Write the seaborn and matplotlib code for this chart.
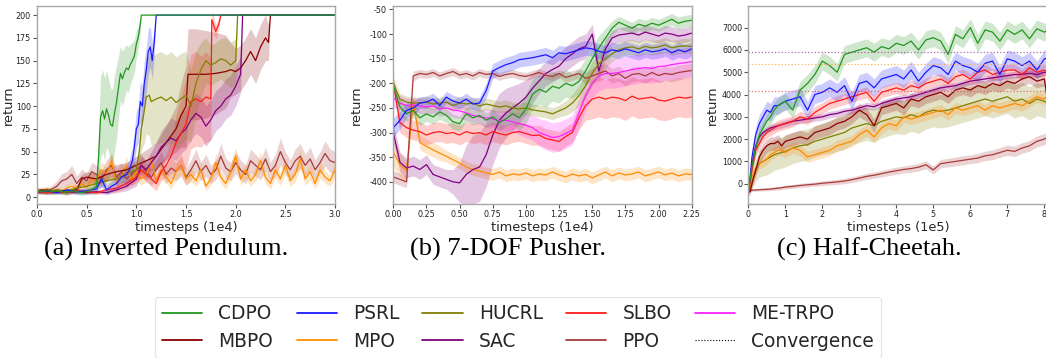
import numpy as np
import matplotlib
matplotlib.use("Agg")
import matplotlib.pyplot as plt
from matplotlib.lines import Line2D
import seaborn as sns

# ---- colours / method names ----
METHODS = ["CDPO", "PSRL", "HUCRL", "SLBO", "ME-TRPO", "MBPO", "MPO", "SAC", "PPO"]
COLORS = {
    "CDPO": "#22961f", "PSRL": "#1a1aff", "HUCRL": "#808000", "SLBO": "#ff1a1a",
    "ME-TRPO": "#ff22ff", "MBPO": "#8b0000", "MPO": "#ff8c00", "SAC": "#800080",
    "PPO": "#a83a3a",
}

# ---- (a) Inverted Pendulum, timesteps in 1e4 ----
IP_CDPO_X = [0.0, 0.05, 0.1, 0.15, 0.2, 0.25, 0.3, 0.35, 0.4, 0.45, 0.5, 0.55, 0.6, 0.62, 0.64, 0.66, 0.68, 0.7,
             0.72, 0.74, 0.76, 0.78, 0.8, 0.82, 0.84, 0.86, 0.88, 0.9, 0.92, 0.94, 0.96, 0.98, 1.0, 1.02, 1.04, 1.05, 3.0]
IP_CDPO_Y = [7, 6, 8, 6, 7, 6, 5, 7, 6, 5, 6, 8, 12, 45, 88, 95, 86, 97, 90, 80, 78, 92, 104, 120, 136, 130, 137,
             142, 140, 146, 150, 155, 168, 176, 190, 200, 200]
IP_CDPO_SD = [3, 3, 3, 3, 3, 3, 3, 3, 3, 3, 3, 4, 8, 30, 45, 45, 45, 42, 40, 40, 40, 42, 40, 35, 30, 30, 28, 25,
              25, 22, 20, 18, 15, 12, 8, 0, 0]

IP_PSRL_X = [0.0, 0.1, 0.2, 0.3, 0.4, 0.5, 0.6, 0.65, 0.7, 0.75, 0.8, 0.85, 0.9, 0.93, 0.96, 0.98, 1.0, 1.02, 1.04,
             1.06, 1.08, 1.1, 1.12, 1.14, 1.16, 1.18, 1.2, 3.0]
IP_PSRL_Y = [6, 7, 5, 8, 6, 7, 9, 20, 8, 12, 15, 22, 25, 30, 40, 55, 75, 80, 105, 100, 125, 140, 160, 165, 150,
             170, 200, 200]
IP_PSRL_SD = [2, 2, 2, 2, 3, 3, 4, 8, 5, 6, 6, 8, 10, 12, 15, 18, 20, 20, 22, 22, 25, 25, 25, 22, 20, 15, 0, 0]

IP_HUCRL_X = [0.0, 0.1, 0.2, 0.3, 0.4, 0.5, 0.6, 0.7, 0.8, 0.9, 0.95, 1.0, 1.03, 1.05, 1.08, 1.1, 1.13, 1.15, 1.2,
              1.25, 1.3, 1.35, 1.4, 1.45, 1.5, 1.55, 1.6, 1.65, 1.7, 1.75, 1.8, 1.85, 1.9, 1.95, 2.0, 2.02, 3.0]
IP_HUCRL_Y = [7, 6, 8, 6, 10, 12, 15, 18, 20, 25, 28, 30, 50, 75, 95, 110, 112, 105, 108, 110, 106, 110, 104, 108,
              112, 100, 125, 140, 150, 145, 148, 152, 150, 145, 150, 200, 200]
IP_HUCRL_SD = [2, 2, 2, 2, 4, 4, 5, 6, 6, 8, 8, 10, 15, 25, 35, 40, 45, 48, 50, 50, 50, 50, 50, 50, 48, 40, 35,
               30, 25, 22, 22, 22, 25, 25, 25, 0, 0]

IP_SLBO_X = [0.0, 0.1, 0.2, 0.3, 0.4, 0.5, 0.6, 0.7, 0.8, 0.9, 1.0, 1.05, 1.1, 1.15, 1.2, 1.25, 1.3, 1.35, 1.4,
             1.45, 1.5, 1.55, 1.6, 1.65, 1.7, 1.75, 1.76, 1.8, 1.83, 1.85, 3.0]
IP_SLBO_Y = [6, 5, 6, 5, 7, 6, 5, 8, 10, 15, 22, 30, 25, 20, 15, 28, 35, 45, 60, 70, 80, 105, 108, 105, 110, 108,
             195, 182, 190, 200, 200]
IP_SLBO_SD = [2, 2, 2, 2, 2, 2, 2, 3, 4, 5, 6, 8, 8, 8, 8, 10, 12, 20, 30, 40, 50, 52, 52, 50, 50, 45, 10, 8, 5, 0, 0]

IP_SAC_X = [0.0, 0.1, 0.2, 0.3, 0.4, 0.5, 0.6, 0.7, 0.8, 0.9, 1.0, 1.05, 1.1, 1.15, 1.2, 1.25, 1.3, 1.35, 1.4,
            1.45, 1.5, 1.55, 1.6, 1.65, 1.7, 1.75, 1.8, 1.85, 1.9, 1.95, 2.0, 2.05, 2.07, 3.0]
IP_SAC_Y = [6, 5, 6, 5, 6, 5, 6, 5, 8, 12, 20, 35, 30, 38, 45, 55, 60, 65, 62, 70, 75, 85, 92, 88, 78, 85, 95,
            100, 108, 112, 122, 135, 200, 200]
IP_SAC_SD = [2, 2, 2, 2, 2, 2, 2, 2, 3, 5, 8, 10, 10, 12, 15, 18, 20, 22, 22, 22, 22, 22, 22, 22, 22, 22, 22, 22,
             22, 22, 22, 20, 0, 0]

IP_MBPO_X = [0.0, 0.1, 0.2, 0.3, 0.4, 0.45, 0.5, 0.6, 0.7, 0.8, 0.9, 1.0, 1.1, 1.2, 1.3, 1.4, 1.45, 1.5, 1.52, 1.6,
             1.7, 1.8, 1.9, 1.95, 2.0, 2.05, 2.1, 2.15, 2.2, 2.25, 2.3, 2.33, 2.35, 3.0]
IP_MBPO_Y = [7, 8, 6, 7, 8, 20, 22, 20, 25, 28, 30, 35, 40, 45, 60, 75, 90, 100, 135, 135, 135, 136, 138, 140,
             138, 142, 150, 160, 150, 165, 175, 170, 200, 200]
IP_MBPO_SD = [2, 2, 2, 2, 3, 5, 6, 6, 7, 8, 8, 10, 12, 15, 18, 25, 35, 45, 50, 50, 48, 45, 40, 30, 25, 25, 25, 25,
              25, 25, 25, 20, 0, 0]

IP_NOISY_X = np.linspace(0.0, 3.0, 61)
IP_MPO_Y = [8, 7, 9, 6, 8, 7, 10, 12, 9, 15, 11, 20, 18, 30, 25, 40, 15, 22, 35, 18, 28, 20, 25, 40, 18, 30, 22,
            15, 28, 35, 20, 25, 18, 30, 12, 20, 38, 22, 15, 28, 45, 20, 30, 18, 25, 40, 22, 15, 30, 20, 35, 18, 25,
            42, 20, 28, 15, 30, 22, 18, 30]
IP_MPO_SD = [3, 3, 3, 3, 3, 3, 4, 4, 4, 6, 5, 7, 7, 9, 8, 10, 6, 8, 10, 6, 9, 7, 8, 10, 6, 9, 7, 6, 9, 10, 7, 8,
             6, 9, 5, 7, 10, 7, 6, 9, 10, 7, 9, 6, 8, 10, 7, 6, 9, 7, 10, 6, 8, 10, 7, 9, 6, 9, 7, 6, 9]
IP_PPO_Y = [7, 8, 6, 9, 12, 18, 20, 25, 15, 22, 18, 28, 25, 20, 30, 35, 22, 28, 20, 25, 30, 35, 28, 22, 30, 38, 25,
            32, 28, 35, 22, 30, 40, 28, 35, 25, 30, 45, 32, 28, 38, 30, 25, 40, 35, 30, 42, 28, 35, 50, 38, 30, 40,
            45, 35, 42, 30, 38, 48, 40, 38]
IP_PPO_SD = [3, 3, 3, 4, 6, 8, 8, 10, 8, 9, 8, 10, 10, 9, 11, 12, 9, 10, 9, 10, 11, 12, 10, 9, 11, 12, 10, 11, 10,
             12, 9, 11, 13, 10, 12, 10, 11, 14, 11, 10, 12, 11, 10, 13, 12, 11, 13, 10, 12, 15, 12, 11, 13, 14, 12,
             13, 11, 12, 14, 13, 12]

# ---- (b) 7-DOF Pusher, timesteps in 1e4 (grid 0.05) ----
PU_X = np.linspace(0.0, 2.25, 46)
PU_CDPO = [-205, -248, -262, -255, -270, -262, -268, -258, -265, -278, -282, -262, -270, -265, -275, -268, -280,
           -272, -262, -270, -252, -222, -212, -218, -206, -210, -200, -205, -196, -175, -150, -128, -108, -88, -76,
           -82, -88, -80, -84, -78, -82, -76, -70, -78, -74, -72]
PU_CDPO_SD = [10, 15, 15, 15, 15, 15, 15, 15, 15, 15, 15, 15, 15, 15, 15, 15, 15, 15, 20, 25, 30, 30, 30, 30, 30,
              30, 28, 25, 25, 25, 25, 25, 20, 15, 12, 12, 12, 12, 12, 12, 12, 12, 12, 12, 12, 12]
PU_PSRL = [-290, -275, -255, -250, -240, -238, -232, -245, -228, -236, -240, -232, -242, -240, -215, -175, -168,
           -162, -158, -152, -150, -148, -145, -142, -148, -138, -140, -136, -132, -128, -130, -135, -138, -132,
           -135, -130, -134, -138, -132, -136, -134, -130, -138, -132, -136, -130]
PU_PSRL_SD = [20, 18, 15, 15, 12, 12, 12, 12, 12, 12, 12, 12, 12, 12, 15, 15, 15, 15, 15, 15, 15, 15, 15, 15, 15,
              15, 15, 15, 15, 15, 15, 15, 15, 15, 15, 15, 15, 15, 15, 15, 15, 15, 15, 15, 15, 15]
PU_HUCRL = [-200, -232, -238, -240, -240, -238, -242, -240, -238, -245, -240, -242, -240, -246, -242, -245, -248,
            -246, -250, -252, -250, -254, -256, -258, -262, -256, -250, -240, -225, -205, -180, -160, -150, -140,
            -132, -128, -126, -130, -125, -128, -126, -122, -128, -125, -124, -125]
PU_HUCRL_SD = [12, 12, 12, 12, 12, 12, 12, 12, 12, 12, 12, 12, 12, 12, 12, 12, 12, 12, 12, 12, 12, 12, 12, 12, 12,
               12, 15, 18, 20, 25, 25, 25, 20, 15, 15, 15, 15, 15, 15, 15, 15, 15, 15, 15, 15, 15]
PU_SLBO = [-200, -280, -290, -295, -298, -305, -300, -298, -302, -300, -305, -298, -302, -300, -305, -298, -302,
           -305, -300, -298, -302, -306, -305, -312, -315, -318, -308, -300, -270, -245, -232, -228, -232, -228,
           -230, -235, -226, -232, -230, -228, -234, -236, -232, -228, -230, -228]
PU_SLBO_SD = [15, 20, 20, 20, 20, 20, 20, 20, 20, 20, 20, 20, 20, 20, 20, 20, 20, 20, 20, 20, 20, 20, 20, 20, 20,
              20, 20, 20, 25, 30, 40, 40, 40, 40, 40, 40, 40, 40, 40, 40, 40, 40, 40, 40, 40, 40]
PU_METRPO = [-230, -240, -245, -244, -246, -248, -246, -252, -250, -254, -256, -260, -265, -268, -270, -272, -276,
             -275, -278, -282, -285, -290, -300, -305, -310, -308, -302, -295, -260, -225, -200, -185, -180, -180,
             -178, -175, -172, -170, -168, -170, -166, -165, -162, -160, -158, -156]
PU_METRPO_SD = [20, 15, 15, 15, 15, 15, 15, 15, 15, 15, 15, 15, 15, 15, 18, 18, 20, 20, 20, 22, 25, 25, 28, 30, 30,
                30, 30, 30, 30, 30, 30, 30, 30, 30, 30, 30, 30, 30, 30, 30, 30, 30, 30, 30, 30, 30]
PU_MPO = [-340, -365, -378, -235, -320, -328, -335, -342, -348, -355, -362, -370, -375, -378, -382, -385, -380,
          -388, -384, -386, -382, -388, -384, -386, -380, -386, -390, -384, -388, -385, -392, -386, -380, -388, -382,
          -386, -384, -380, -388, -384, -380, -386, -382, -388, -384, -385]
PU_MPO_SD = [30, 25, 20, 15, 15, 15, 15, 15, 12, 12, 12, 12, 12, 12, 12, 12, 12, 12, 12, 12, 12, 12, 12, 12, 12, 12,
             12, 12, 12, 12, 12, 12, 12, 12, 12, 12, 12, 12, 12, 12, 12, 12, 12, 12, 12, 12]
PU_SAC = [-300, -360, -372, -368, -375, -365, -385, -390, -395, -400, -402, -385, -375, -370, -345, -305, -275,
          -260, -250, -240, -228, -210, -195, -180, -172, -165, -150, -140, -130, -125, -100, -175, -130, -108,
          -102, -100, -98, -102, -96, -100, -104, -98, -100, -104, -102, -98]
PU_SAC_SD = [20, 20, 20, 20, 20, 20, 20, 20, 20, 25, 40, 60, 70, 70, 65, 60, 55, 50, 45, 40, 35, 30, 25, 25, 25,
             25, 25, 25, 25, 25, 20, 20, 20, 15, 15, 15, 15, 15, 15, 15, 15, 15, 15, 15, 15, 15]
PU_PPO = [-390, -395, -400, -185, -180, -182, -178, -185, -180, -176, -183, -180, -185, -178, -182, -180, -186,
          -182, -180, -184, -186, -182, -178, -184, -186, -180, -188, -184, -180, -190, -185, -180, -175, -185,
          -180, -190, -182, -180, -185, -178, -184, -180, -182, -178, -176, -174]
PU_PPO_SD = [12, 12, 12, 10, 8, 8, 8, 8, 8, 8, 8, 8, 8, 8, 8, 8, 8, 8, 8, 8, 8, 8, 8, 8, 8, 8, 10, 10, 10, 12, 15,
             15, 15, 15, 15, 15, 15, 15, 15, 15, 15, 15, 15, 15, 15, 15]

# ---- (c) Half-Cheetah, timesteps in 1e5 ----
HC_X = [0.0, 0.05, 0.1, 0.2, 0.3, 0.4, 0.5, 0.6, 0.7, 0.8, 0.9, 1.0, 1.2, 1.4, 1.6, 1.8, 2.0, 2.2, 2.4, 2.6, 2.8,
        3.0, 3.2, 3.4, 3.6, 3.8, 4.0, 4.2, 4.4, 4.6, 4.8, 5.0, 5.2, 5.4, 5.6, 5.8, 6.0, 6.2, 6.4, 6.6, 6.8, 7.0,
        7.2, 7.4, 7.6, 7.8, 8.0, 8.1]
HC_CDPO = [-300, 200, 800, 1600, 2200, 2500, 2800, 3000, 3300, 3500, 3600, 3700, 3300, 4200, 4500, 4900, 5500,
           5300, 5000, 5800, 5900, 6000, 6100, 5900, 6150, 6050, 6300, 6200, 6400, 6000, 6450, 6550, 6400, 5800,
           6700, 6500, 7000, 6300, 6900, 6800, 6400, 6900, 6700, 6900, 6500, 6950, 6800, 6900]
HC_CDPO_SD = [100, 200, 300, 350, 350, 350, 350, 350, 350, 350, 350, 350, 350, 400, 400, 400, 400, 400, 400, 400,
              400, 400, 400, 400, 400, 400, 400, 400, 400, 400, 400, 400, 400, 400, 400, 400, 400, 400, 400, 400,
              400, 400, 400, 400, 400, 400, 400, 400]
HC_PSRL = [-300, 300, 1200, 2200, 2700, 3000, 3300, 3200, 3500, 3500, 3600, 3700, 3800, 3900, 3300, 4000, 4100,
           4300, 4100, 4400, 3700, 4500, 4600, 4300, 4700, 4800, 4900, 4700, 5100, 4600, 5000, 5300, 5200, 4900,
           5500, 5300, 5200, 5000, 5400, 5500, 4900, 5600, 5500, 5300, 5500, 5100, 5600, 5650]
HC_PSRL_SD = [100, 200, 300, 350, 400, 400, 400, 400, 400, 400, 400, 400, 400, 400, 400, 400, 400, 400, 400, 400,
              400, 400, 400, 400, 400, 400, 400, 400, 400, 400, 400, 400, 400, 400, 400, 400, 400, 400, 400, 400,
              400, 400, 400, 400, 400, 400, 400, 400]
HC_SLBO = [-300, 100, 600, 1500, 1800, 2100, 2300, 2400, 2500, 2600, 2650, 2700, 2800, 3000, 2900, 3200, 3400,
           3600, 3700, 3800, 3900, 4000, 4100, 3700, 4100, 4200, 4300, 4200, 4400, 4300, 4500, 4600, 4700, 4500,
           4800, 4900, 4700, 5000, 5100, 4900, 5000, 5100, 5100, 4900, 5200, 5000, 5100, 5000]
HC_SLBO_SD = [100, 150, 200, 250, 250, 250, 250, 250, 250, 250, 250, 250, 250, 250, 250, 250, 250, 250, 250, 250,
              250, 250, 250, 250, 250, 250, 250, 250, 250, 250, 250, 250, 250, 250, 250, 250, 250, 250, 250, 250,
              250, 250, 250, 250, 250, 250, 250, 250]
HC_SAC = [-300, 200, 900, 1700, 2100, 2300, 2400, 2500, 2550, 2600, 2650, 2700, 2800, 2850, 2900, 2950, 3000, 3100,
          3150, 3250, 3300, 3400, 3500, 3450, 3600, 3700, 3800, 3850, 3900, 4000, 4100, 4200, 4300, 4350, 4400, 4500,
          4600, 4650, 4700, 4750, 4800, 4850, 4900, 4900, 4950, 4900, 5000, 5000]
HC_SAC_SD = [100, 150, 150, 150, 150, 150, 150, 150, 150, 150, 150, 150, 150, 150, 150, 150, 150, 150, 150, 150, 150,
             150, 150, 150, 150, 150, 150, 150, 150, 150, 150, 150, 150, 150, 150, 150, 150, 150, 150, 150, 150, 150,
             150, 150, 150, 150, 150, 150]
HC_MBPO = [-400, -350, 0, 600, 1200, 1500, 1700, 1800, 1800, 1900, 1700, 1900, 2000, 2100, 2000, 2300, 2400, 2500,
           2700, 2800, 3000, 3300, 3100, 2600, 3400, 3500, 3600, 3400, 3800, 3700, 3900, 4000, 4100, 3900, 4200,
           4300, 4200, 4400, 4300, 4500, 4400, 4600, 4500, 4700, 4800, 4600, 4700, 3600]
HC_MBPO_SD = [100, 150, 200, 250, 300, 300, 300, 300, 300, 300, 300, 300, 300, 300, 300, 300, 300, 300, 300, 300,
              300, 300, 300, 300, 300, 300, 300, 300, 300, 300, 300, 300, 300, 300, 300, 300, 300, 300, 300, 300,
              300, 300, 300, 300, 300, 300, 300, 300]
HC_HUCRL = [-300, -200, 100, 600, 900, 1000, 1100, 1200, 1300, 1350, 1400, 1450, 1600, 1700, 1750, 1900, 2000,
            2100, 2200, 2300, 2500, 2600, 2700, 2600, 2800, 2900, 3000, 2950, 3100, 3000, 3200, 3300, 3250, 3300,
            3400, 3500, 3600, 3700, 3800, 3700, 3800, 3900, 3700, 3800, 3600, 3800, 3700, 3600]
HC_HUCRL_SD = [100, 200, 300, 500, 600, 650, 700, 700, 700, 700, 700, 700, 700, 700, 700, 700, 700, 750, 750, 750,
               750, 750, 750, 750, 750, 750, 750, 750, 750, 750, 750, 750, 750, 750, 750, 750, 750, 750, 750, 750,
               750, 750, 750, 750, 750, 750, 750, 750]
HC_MPO = [-300, -100, 300, 700, 900, 1000, 1100, 1300, 1400, 1500, 1500, 1400, 1600, 1500, 1200, 1300, 1400, 1500,
          1700, 1800, 1900, 2200, 2400, 2100, 2500, 2700, 2600, 3000, 2900, 3000, 3100, 3200, 3300, 3100, 3400, 3300,
          3400, 3500, 3300, 3500, 3400, 3500, 3600, 3500, 3700, 3900, 3800, 4000]
HC_MPO_SD = [100, 150, 200, 250, 250, 250, 250, 250, 250, 250, 250, 250, 250, 250, 250, 250, 250, 250, 250, 250,
             250, 250, 250, 250, 250, 250, 250, 250, 250, 250, 250, 250, 250, 250, 250, 250, 250, 250, 250, 250,
             250, 250, 250, 250, 250, 250, 250, 250]
HC_PPO = [-300, -300, -290, -280, -270, -260, -250, -240, -220, -200, -180, -150, -120, -80, -50, -20, 20, 50, 80,
          120, 180, 250, 330, 380, 450, 520, 580, 640, 680, 740, 850, 620, 900, 950, 1000, 1050, 1100, 1150, 1250,
          1300, 1400, 1500, 1450, 1600, 1700, 1900, 2000, 2100]
HC_PPO_SD = [60, 60, 60, 60, 60, 70, 70, 70, 80, 80, 80, 90, 90, 100, 100, 100, 110, 110, 120, 120, 130, 130, 140,
             140, 150, 150, 160, 160, 170, 170, 180, 180, 190, 190, 200, 200, 200, 210, 210, 220, 220, 230, 230, 240,
             240, 250, 250, 250]
HC_CONV = [5920, 5350, 4170]
HC_CONV_COLORS = ["#a040a0", "#ffa030", "#e05050"]

CAPTIONS = ["(a) Inverted Pendulum.", "(b) 7-DOF Pusher.", "(c) Half-Cheetah."]


def draw(ax, x, y, sd, name, alpha=0.22):
    x = np.asarray(x, dtype=float)
    y = np.asarray(y, dtype=float)
    sd = np.asarray(sd, dtype=float)
    c = COLORS[name]
    ax.fill_between(x, y - sd, y + sd, color=c, alpha=alpha, lw=0)
    sns.lineplot(x=x, y=y, color=c, lw=0.9, ax=ax, sort=False, estimator=None)


sns.set_style("white")
plt.rcParams["font.family"] = ["DejaVu Sans"]
plt.rcParams["axes.unicode_minus"] = False

W, H = 1046, 358
fig = plt.figure(figsize=(W / 100, H / 100), dpi=100)

ax1 = fig.add_axes([37 / W, 1 - 204 / H, 298 / W, 198 / H])
ax2 = fig.add_axes([393.3 / W, 1 - 204 / H, 298.4 / W, 198 / H])
ax3 = fig.add_axes([748.3 / W, 1 - 204 / H, 299.7 / W, 198 / H])

# (a)
draw(ax1, IP_NOISY_X, IP_PPO_Y, IP_PPO_SD, "PPO")
draw(ax1, IP_NOISY_X, IP_MPO_Y, IP_MPO_SD, "MPO")
draw(ax1, IP_MBPO_X, IP_MBPO_Y, IP_MBPO_SD, "MBPO")
draw(ax1, IP_SAC_X, IP_SAC_Y, IP_SAC_SD, "SAC")
draw(ax1, IP_SLBO_X, IP_SLBO_Y, IP_SLBO_SD, "SLBO")
draw(ax1, IP_HUCRL_X, IP_HUCRL_Y, IP_HUCRL_SD, "HUCRL")
draw(ax1, IP_PSRL_X, IP_PSRL_Y, IP_PSRL_SD, "PSRL")
draw(ax1, IP_CDPO_X, IP_CDPO_Y, IP_CDPO_SD, "CDPO")
ax1.set_xlim(0, 3.0)
ax1.set_ylim(-7.5, 210)
ax1.set_yticks([0, 25, 50, 75, 100, 125, 150, 175, 200])
ax1.set_xticks([0.0, 0.5, 1.0, 1.5, 2.0, 2.5, 3.0])
ax1.set_xlabel("timesteps (1e4)")

# (b)
draw(ax2, PU_X, PU_MPO, PU_MPO_SD, "MPO")
draw(ax2, PU_X, PU_SAC, PU_SAC_SD, "SAC")
draw(ax2, PU_X, PU_PPO, PU_PPO_SD, "PPO")
draw(ax2, PU_X, PU_SLBO, PU_SLBO_SD, "SLBO")
draw(ax2, PU_X, PU_METRPO, PU_METRPO_SD, "ME-TRPO")
draw(ax2, PU_X, PU_HUCRL, PU_HUCRL_SD, "HUCRL")
draw(ax2, PU_X, PU_CDPO, PU_CDPO_SD, "CDPO")
draw(ax2, PU_X, PU_PSRL, PU_PSRL_SD, "PSRL")
ax2.set_xlim(0, 2.25)
ax2.set_ylim(-445, -43)
ax2.set_yticks([-400, -350, -300, -250, -200, -150, -100, -50])
ax2.set_xticks([0.0, 0.25, 0.5, 0.75, 1.0, 1.25, 1.5, 1.75, 2.0, 2.25])
ax2.set_xlabel("timesteps (1e4)")

# (c)
draw(ax3, HC_X, HC_PPO, HC_PPO_SD, "PPO")
draw(ax3, HC_X, HC_HUCRL, HC_HUCRL_SD, "HUCRL")
draw(ax3, HC_X, HC_MPO, HC_MPO_SD, "MPO")
draw(ax3, HC_X, HC_MBPO, HC_MBPO_SD, "MBPO")
draw(ax3, HC_X, HC_SAC, HC_SAC_SD, "SAC")
draw(ax3, HC_X, HC_SLBO, HC_SLBO_SD, "SLBO")
draw(ax3, HC_X, HC_PSRL, HC_PSRL_SD, "PSRL")
draw(ax3, HC_X, HC_CDPO, HC_CDPO_SD, "CDPO")
for v, c in zip(HC_CONV, HC_CONV_COLORS):
    ax3.axhline(v, color=c, ls=":", lw=0.9, alpha=0.8)
ax3.set_xlim(0, 8.1)
ax3.set_ylim(-911, 7973)
ax3.set_yticks([0, 1000, 2000, 3000, 4000, 5000, 6000, 7000])
ax3.set_xticks([0, 1, 2, 3, 4, 5, 6, 7, 8])
ax3.set_xlabel("timesteps (1e5)")

# y-label positions (right edge of the rotated text) measured on the reference
ylab_x = [-0.074, -0.1025, -0.097]
for ax, lx in zip((ax1, ax2, ax3), ylab_x):
    ax.set_ylabel("return", fontsize=9.3)
    ax.yaxis.set_label_coords(lx, 0.5)
    ax.xaxis.label.set_size(9.3)
    ax.xaxis.labelpad = 1
    ax.tick_params(axis="both", direction="out", length=3, width=0.8, color="#555555",
                   labelsize=5.8, labelcolor="#222222", pad=1.5)
    ax.tick_params(axis="x", bottom=True)
    ax.tick_params(axis="y", left=True)
    for s in ax.spines.values():
        s.set_color("#a8a8a8")
        s.set_linewidth(1.0)

cap_x = [166, 508, 869]
for cx, txt in zip(cap_x, CAPTIONS):
    fig.text(cx / W, 1 - 256 / H, txt, ha="center", va="baseline",
             fontsize=19, family=["Liberation Serif", "DejaVu Serif"], color="black")

order = ["CDPO", "MBPO", "PSRL", "MPO", "HUCRL", "SAC", "SLBO", "PPO", "ME-TRPO"]
handles = [Line2D([], [], color=COLORS[m], lw=1.3) for m in order]
labels = list(order)
handles.append(Line2D([], [], color="black", ls=":", lw=0.8))
labels.append("Convergence")
leg = fig.legend(handles, labels, ncol=5, loc="upper left",
                 bbox_to_anchor=(154.7 / W, 1 - 297 / H), borderaxespad=0,
                 fontsize=13.45, handlelength=2.15, handletextpad=0.86, columnspacing=1.25,
                 labelspacing=0.43, frameon=True, fancybox=True, borderpad=0.4)
leg.get_frame().set_edgecolor("#dddddd")
leg.get_frame().set_linewidth(0.8)

fig.savefig("out.png", dpi=100)
